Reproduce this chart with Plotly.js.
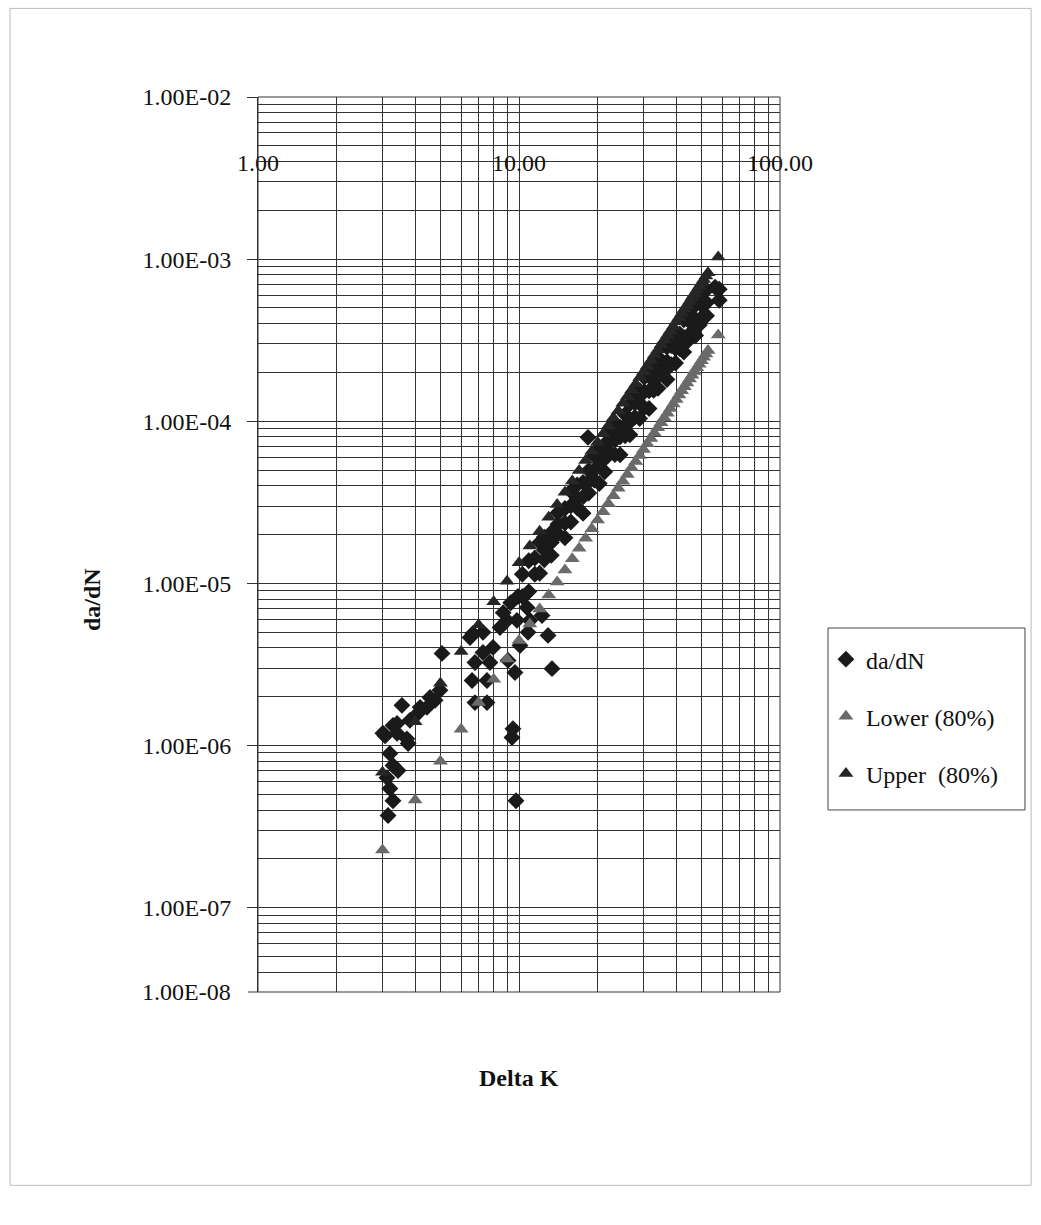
<!DOCTYPE html>
<html><head><meta charset="utf-8">
<script src="https://cdn.plot.ly/plotly-3.0.1.min.js"></script>
<style>html,body{margin:0;padding:0;background:#fff}#chart{width:1041px;height:1225px}</style>
</head><body><div id="chart"></div>
<script>
// ---- data ----
const deltaK = [
  3.56,3.82,4.10,4.44,4.77,4.98,4.56,4.18,3.29,3.07,3.41,3.72,3.76,3.20,3.29,3.44,3.12,3.20,3.29,3.15,3.01,3.41,
  5.07,6.66,6.49,7.28,7.95,7.28,6.78,7.74,6.61,7.54,6.78,7.54,9.08,9.65,10.09,10.83,12.92,13.38,12.25,11.02,10.73,9.48,9.40,9.74,8.99,8.46,9.82,9.3,9.9,8.7,
  10.3,10.3,10.9,10.9,11.5,11.5,12.0,12.0,
  12.5,12.5,13.3,13.3,14.1,14.1,15.0,15.0,15.8,15.8,16.7,16.7,17.6,17.6,18.5,18.5,19.4,19.4,20.3,20.3,
  21.3,21.3,22.3,22.3,23.3,23.3,24.4,24.4,25.5,25.5,26.6,26.6,27.8,27.8,29.0,29.0,30.2,30.2,31.5,31.5,
  32.8,32.8,34.1,34.1,35.5,35.5,36.9,36.9,38.3,38.3,39.8,39.8,41.3,41.3,42.8,42.8,44.3,44.3,45.9,45.9,
  47.5,47.5,49.1,49.1,50.7,50.7,52.3,52.3,
  12.5,13.3,14.1,15.0,15.8,16.7,17.6,18.5,19.4,20.3,21.3,22.3,23.3,24.4,25.5,26.6,27.8,29.0,30.2,31.5,
  32.8,34.1,35.5,36.9,38.3,39.8,41.3,42.8,44.3,45.9,47.5,49.1,50.7,52.3,
  18.38,56.4,58.5,58.5
];
const dadN = [
  1.77e-6,1.43e-6,1.58e-6,1.72e-6,1.90e-6,2.19e-6,1.98e-6,1.72e-6,1.33e-6,1.15e-6,1.19e-6,1.10e-6,1.03e-6,8.93e-7,7.53e-7,7.02e-7,6.34e-7,5.43e-7,4.57e-7,3.70e-7,1.19e-6,1.37e-6,
  3.70e-6,4.91e-6,4.64e-6,4.99e-6,4.03e-6,3.75e-6,3.25e-6,3.25e-6,2.52e-6,2.52e-6,1.84e-6,1.84e-6,3.35e-6,2.82e-6,4.14e-6,4.99e-6,4.78e-6,2.98e-6,6.34e-6,5.92e-6,7.11e-6,1.27e-6,1.12e-6,4.57e-7,5.92e-6,5.35e-6,5.92e-6,7.6e-6,8.3e-6,6.6e-6,
  1.14e-5,8.29e-6,1.38e-5,8.90e-6,1.435e-5,1.14e-5,1.79e-5,1.155e-5,
  1.93e-5,1.40e-5,2.06e-5,1.49e-5,2.73e-5,2.02e-5,2.90e-5,1.91e-5,3.01e-5,2.39e-5,4.05e-5,2.93e-5,4.20e-5,2.71e-5,4.98e-5,3.61e-5,6.14e-5,4.34e-5,5.71e-5,4.13e-5,
  7.21e-5,4.88e-5,7.72e-5,6.42e-5,9.43e-5,6.23e-5,9.20e-5,6.22e-5,1.10e-4,8.15e-5,1.28e-4,8.25e-5,1.30e-4,1.06e-4,1.55e-4,1.04e-4,1.52e-4,1.21e-4,1.99e-4,1.20e-4,
  2.00e-4,1.55e-4,2.25e-4,1.60e-4,2.32e-4,1.98e-4,2.87e-4,1.81e-4,2.93e-4,2.23e-4,3.38e-4,2.29e-4,3.46e-4,2.81e-4,4.23e-4,2.67e-4,4.30e-4,3.12e-4,4.38e-4,3.56e-4,
  5.23e-4,3.38e-4,5.42e-4,3.93e-4,6.29e-4,4.45e-4,6.48e-4,4.48e-4,
  1.61e-5,1.79e-5,2.32e-5,2.36e-5,3.70e-5,3.37e-5,3.42e-5,4.24e-5,4.99e-5,6.86e-5,5.86e-5,8.86e-5,7.67e-5,8.02e-5,9.36e-5,9.92e-5,1.49e-4,1.29e-4,1.87e-4,1.54e-4,
  1.78e-4,2.47e-4,2.07e-4,2.33e-4,3.37e-4,2.81e-4,3.15e-4,3.29e-4,4.83e-4,4.00e-4,4.25e-4,6.08e-4,5.11e-4,5.39e-4,
  7.96e-5,6.71e-4,6.53e-4,5.58e-4
];
const boundK = [3,4,5,6,7,8,9,10,11,12,13,14,15,16,17,18,19,20,21,22,23,24,25,26,27,28,29,30,
  31,32,33,34,35,36,37,38,39,40,41,42,43,44,45,46,47,48,49,50,51,52,53,58];
const lower80 = [2.27e-7,4.62e-7,8.01e-7,1.26e-6,1.84e-6,2.56e-6,3.42e-6,4.44e-6,5.62e-6,6.96e-6,8.48e-6,1.02e-5,
  1.21e-5,1.42e-5,1.65e-5,1.90e-5,2.17e-5,2.46e-5,2.77e-5,3.11e-5,3.47e-5,3.86e-5,4.26e-5,4.70e-5,5.16e-5,5.64e-5,
  6.15e-5,6.69e-5,7.26e-5,7.84e-5,8.47e-5,9.12e-5,9.79e-5,1.05e-4,1.12e-4,1.20e-4,1.28e-4,1.36e-4,1.45e-4,1.54e-4,
  1.63e-4,1.72e-4,1.82e-4,1.92e-4,2.03e-4,2.14e-4,2.25e-4,2.36e-4,2.48e-4,2.60e-4,2.73e-4,3.41e-4];
const upper80 = [6.85e-7,1.40e-6,2.42e-6,3.80e-6,5.55e-6,7.72e-6,1.03e-5,1.34e-5,1.70e-5,2.10e-5,2.56e-5,3.07e-5,
  3.65e-5,4.28e-5,4.97e-5,5.72e-5,6.54e-5,7.42e-5,8.37e-5,9.39e-5,1.05e-4,1.16e-4,1.29e-4,1.42e-4,1.56e-4,1.70e-4,
  1.86e-4,2.02e-4,2.19e-4,2.37e-4,2.56e-4,2.75e-4,2.96e-4,3.17e-4,3.39e-4,3.62e-4,3.86e-4,4.11e-4,4.37e-4,4.64e-4,
  4.92e-4,5.20e-4,5.50e-4,5.81e-4,6.12e-4,6.45e-4,6.79e-4,7.13e-4,7.49e-4,7.86e-4,8.24e-4,1.03e-3];
const seriesNames = ['da/dN','Lower (80%)','Upper\u00a0\u00a0(80%)'];
const xTickVals = [1,10,100];
const xTickText = ['1.00','10.00','100.00'];
const yTickVals = [1e-2,1e-3,1e-4,1e-5,1e-6,1e-7];
const yTickText = ['1.00E-02','1.00E-03','1.00E-04','1.00E-05','1.00E-06','1.00E-07'];
const yBottomLabel = '1.00E-08';
const xTitle = 'Delta K';
const yTitle = 'da/dN';

// ---- minor grid positions (log decades) ----
const xMinor = [];
[1,10].forEach(d => { for (let m = 2; m <= 9; m++) xMinor.push(m*d); });
const yMinor = [];
[1e-8,1e-7,1e-6,1e-5,1e-4,1e-3].forEach(d => { for (let m = 2; m <= 9; m++) yMinor.push(m*d); });

const serif = "'Liberation Serif', serif";
const gridC = '#333333';
const fs = 24;

const traces = [
  {x: deltaK, y: dadN, name: seriesNames[0], type: 'scatter', mode: 'markers', legendgroup: 'a',
   marker: {symbol: 'diamond', size: 13, color: '#1a1a1a'}},
  {x: boundK, y: lower80, name: seriesNames[1], type: 'scatter', mode: 'markers', legendgroup: 'b',
   marker: {symbol: 'triangle-up', size: 13, color: '#6a6a6a'}},
  {x: boundK, y: upper80, name: seriesNames[2], type: 'scatter', mode: 'markers', legendgroup: 'c',
   marker: {symbol: 'triangle-up', size: 13, color: '#262626'}}
];

const layout = {
  width: 1041, height: 1225,
  margin: {l: 258, r: 261, t: 97, b: 233, pad: 0},
  paper_bgcolor: '#ffffff', plot_bgcolor: '#ffffff',
  font: {family: serif, size: fs, color: '#111'},
  showlegend: true,
  xaxis: {
    type: 'log', range: [0, 2], anchor: 'free', position: 0.945,
    tickmode: 'array', tickvals: xTickVals, ticktext: xTickText,
    ticks: '', showline: false, zeroline: false,
    showgrid: true, gridcolor: gridC, gridwidth: 1,
    minor: {tickmode: 'array', tickvals: xMinor, showgrid: true, gridcolor: gridC, gridwidth: 1, ticks: ''},
    tickfont: {family: serif, size: fs, color: '#111'}
  },
  yaxis: {
    type: 'log', range: [-7.52, -2],
    tickmode: 'array', tickvals: yTickVals, ticktext: yTickText,
    ticks: 'outside', ticklen: 10, tickcolor: '#333', tickwidth: 1, ticklabelstandoff: 11,
    showline: true, linecolor: '#333', linewidth: 1, zeroline: false,
    showgrid: true, gridcolor: gridC, gridwidth: 1,
    minor: {tickmode: 'array', tickvals: yMinor, showgrid: true, gridcolor: gridC, gridwidth: 1, ticks: ''},
    tickfont: {family: serif, size: fs, color: '#111'}
  },
  legend: {
    x: 1.088, xanchor: 'left', y: 0.3966, yanchor: 'top',
    bgcolor: 'rgba(0,0,0,0)', borderwidth: 0,
    font: {family: serif, size: fs, color: '#111'},
    traceorder: 'grouped', tracegroupgap: 23
  },
  shapes: [
    {type: 'rect', xref: 'paper', yref: 'paper', x0: 0, x1: 1, y0: 0, y1: 1, line: {color: '#333', width: 1}},
    {type: 'rect', xref: 'paper', yref: 'paper', x0: 1.092, x1: 1.4693, y0: 0.2034, y1: 0.4067, line: {color: '#444', width: 1}},
    {type: 'line', xref: 'paper', yref: 'paper', x0: -0.0192, x1: 0, y0: 0, y1: 0, line: {color: '#333', width: 1}},
    {type: 'rect', xref: 'paper', yref: 'paper', x0: -0.475, x1: 1.481, y0: -0.216, y1: 1.099, line: {color: '#bbbbbb', width: 1}}
  ],
  annotations: [
    {text: yBottomLabel, xref: 'paper', yref: 'paper', x: 0, y: 0, xanchor: 'right', yanchor: 'middle',
     xshift: -25, showarrow: false, font: {family: serif, size: fs, color: '#111'}},
    {text: '<b>' + yTitle + '</b>', xref: 'paper', yref: 'paper', x: -0.318, y: 0.438, textangle: -90,
     xanchor: 'center', yanchor: 'middle', showarrow: false, font: {family: serif, size: 24, color: '#111'}},
    {text: '<b>' + xTitle + '</b>', xref: 'paper', yref: 'paper', x: 0.5, y: -0.0961,
     xanchor: 'center', yanchor: 'middle', showarrow: false, font: {family: serif, size: 24, color: '#111'}}
  ]
};

Plotly.newPlot('chart', traces, layout, {displayModeBar: false, staticPlot: true});
</script>
</body></html>
